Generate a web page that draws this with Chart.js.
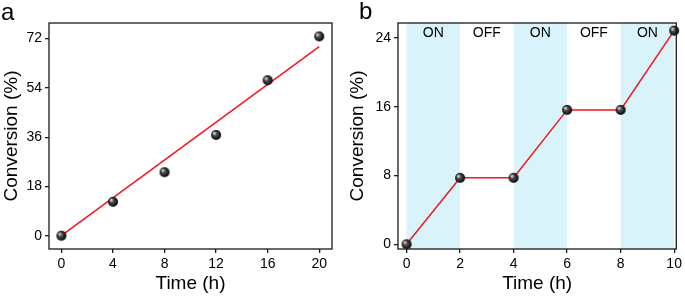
<!DOCTYPE html>
<html>
<head>
<meta charset="utf-8">
<script src="https://cdn.jsdelivr.net/npm/chart.js@4.4.1/dist/chart.umd.min.js"></script>
<style>
  body { margin: 0; background: #fff; }
  .panel { position: absolute; top: 0; height: 296px; }
  .letter { position: absolute; font-family: 'Liberation Sans', Arial, sans-serif; font-size: 24px; color: #000; line-height: 1; }
</style>
</head>
<body>
<div class="panel" style="left:0;width:342px"><canvas id="chart-a" width="342" height="296"></canvas></div>
<div class="panel" style="left:342px;width:343px"><canvas id="chart-b" width="343" height="296"></canvas></div>
<span class="letter" style="left:1px;top:0px">a</span>
<span class="letter" style="left:359px;top:-1px">b</span>
<script>

// panel a: conversion vs time
const timeA = [0, 4, 8, 12, 16, 20];
const convA = [0, 12.4, 23.2, 36.8, 56.8, 72.8];
const fitTime = [0, 20];
const fitConv = [0, 69.1];
const ticksA_x = [0, 4, 8, 12, 16, 20];
const ticksA_y = [0, 18, 36, 54, 72];

// panel b: light on/off cycles
const timeB = [0, 2, 4, 6, 8, 10];
const convB = [0, 7.73, 7.73, 15.63, 15.63, 24.85];
const ticksB_x = [0, 2, 4, 6, 8, 10];
const ticksB_y = [0, 8, 16, 24];
const bandStart = [0, 2, 4, 6, 8];
const bandEnd = [2, 4, 6, 8, 10];
const bandLabel = ['ON', 'OFF', 'ON', 'OFF', 'ON'];

const FONT = "'Liberation Sans', Arial, sans-serif";
const RED = '#f5151b';
const FRAME = '#1a1a1a';

// shaded sphere marker
function sphere(r) {
    const c = document.createElement('canvas');
    c.width = c.height = r * 2 + 2;
    const g = c.getContext('2d');
    const m = r + 1;
    const grad = g.createRadialGradient(m - r * 0.4, m - r * 0.4, 0.3, m, m, r);
    grad.addColorStop(0, '#f0f0f0');
    grad.addColorStop(0.35, '#555');
    grad.addColorStop(1, '#000');
    g.fillStyle = grad;
    g.beginPath();
    g.arc(m, m, r, 0, Math.PI * 2);
    g.fill();
    return c;
}
const ball = sphere(5);

const framePlugin = {
    id: 'frame',
    afterDatasetsDraw(chart) {
        const a = chart.chartArea;
        const ctx = chart.ctx;
        ctx.save();
        ctx.strokeStyle = FRAME;
        ctx.lineWidth = 1.3;
        ctx.strokeRect(a.left, a.top, a.right - a.left, a.bottom - a.top);
        ctx.restore();
    }
};

const bandPlugin = {
    id: 'bands',
    beforeDatasetsDraw(chart) {
        const x = chart.scales.x;
        const a = chart.chartArea;
        const ctx = chart.ctx;
        ctx.save();
        for (let i = 0; i < bandStart.length; i++) {
            const x0 = x.getPixelForValue(bandStart[i]);
            const x1 = x.getPixelForValue(bandEnd[i]);
            if (bandLabel[i] === 'ON') {
                ctx.fillStyle = '#d8f4fa';
                ctx.fillRect(x0, a.top, x1 - x0, a.bottom - a.top);
            }
            ctx.fillStyle = '#000';
            ctx.font = '14px ' + FONT;
            ctx.textAlign = 'center';
            ctx.textBaseline = 'middle';
            ctx.fillText(bandLabel[i], (x0 + x1) / 2, a.top + 10);
        }
        ctx.restore();
    }
};

function axes(xMin, xMax, xTicks, yMin, yMax, yTicks, yWidth, titlePad) {
    const tickFont = { family: FONT, size: 14 };
    const titleFont = { family: FONT, size: 19 };
    return {
        x: {
            type: 'linear', min: xMin, max: xMax,
            afterBuildTicks: s => { s.ticks = xTicks.map(v => ({ value: v })); },
            afterFit: s => { s.height = 47; },
            grid: { drawOnChartArea: false, tickLength: 4, color: FRAME, lineWidth: 1.3 },
            border: { display: false },
            ticks: { color: '#000', font: tickFont, padding: 3, maxRotation: 0 },
            title: { display: true, text: 'Time (h)', color: '#000', font: titleFont, padding: { top: 0, bottom: 1 } }
        },
        y: {
            type: 'linear', min: yMin, max: yMax,
            afterBuildTicks: s => { s.ticks = yTicks.map(v => ({ value: v })); },
            afterFit: s => { s.width = yWidth; },
            grid: { drawOnChartArea: false, tickLength: 4, color: FRAME, lineWidth: 1.3 },
            border: { display: false },
            ticks: { color: '#000', font: tickFont, padding: 3 },
            title: { display: true, text: 'Conversion (%)', color: '#000', font: titleFont, padding: { top: titlePad, bottom: 0 } }
        }
    };
}

const common = {
    responsive: false,
    animation: false,
    plugins: { legend: { display: false }, tooltip: { enabled: false } }
};

const chartA = new Chart(document.getElementById('chart-a'), {
    type: 'scatter',
    data: {
        datasets: [{
            data: timeA.map((t, i) => ({ x: t, y: convA[i] })),
            pointStyle: ball,
            showLine: false,
            clip: false
        }, {
            data: fitTime.map((t, i) => ({ x: t, y: fitConv[i] })),
            showLine: true,
            borderColor: RED,
            borderWidth: 1.5,
            pointRadius: 0
        }]
    },
    options: {
        ...common,
        layout: { padding: { top: 23, right: 10, left: 0, bottom: 0 } },
        scales: axes(-0.96, 20.99, ticksA_x, -4.85, 77.7, ticksA_y, 49, 0)
    },
    plugins: [framePlugin]
});

const chartB = new Chart(document.getElementById('chart-b'), {
    type: 'scatter',
    data: {
        datasets: [{
            data: timeB.map((t, i) => ({ x: t, y: convB[i] })),
            pointStyle: ball,
            showLine: true,
            borderColor: RED,
            borderWidth: 1.5,
            clip: false
        }]
    },
    options: {
        ...common,
        layout: { padding: { top: 23, right: 8, left: 0, bottom: 0 } },
        scales: axes(-0.32, 10.08, ticksB_x, -0.55, 25.74, ticksB_y, 56, 4)
    },
    plugins: [bandPlugin, framePlugin]
});
</script>
</body>
</html>
